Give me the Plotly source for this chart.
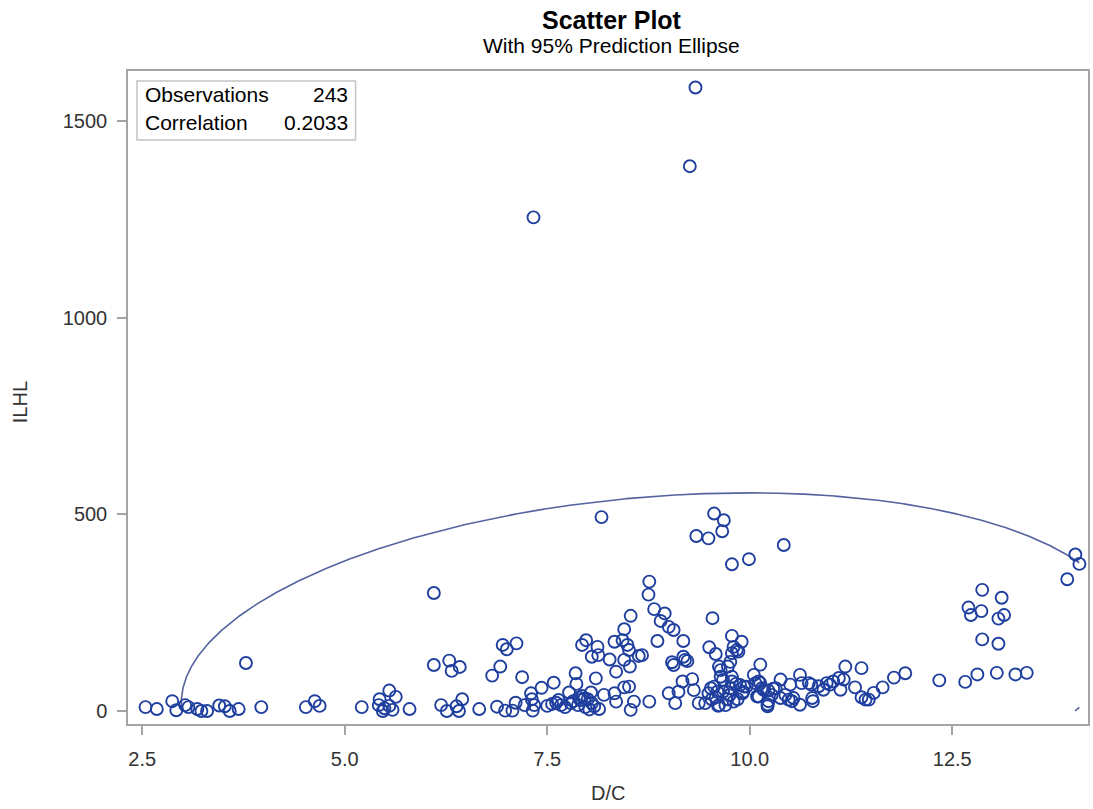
import numpy as np
import plotly.graph_objects as go

# D/C ratio (x) and ILHL (y) for the 243 observations
dc = [
    2.54, 2.68, 2.87, 2.92, 3.03, 3.07, 3.18, 3.23, 3.30, 3.45, 3.52, 3.58, 3.69, 3.78, 3.97,
    4.52, 4.63, 4.69, 5.21, 5.43, 5.55, 5.63, 5.42, 5.49, 5.47, 5.55, 5.59, 5.80,
    6.10, 6.10, 6.29, 6.32, 6.42, 6.19, 6.26, 6.38, 6.41, 6.45,
    6.66, 6.82, 6.92, 6.88, 6.95, 7.00, 7.12, 6.98, 7.07, 7.11, 7.19, 7.22, 7.30, 7.31, 7.32,
    7.34, 7.33, 7.43,
    7.50, 7.56, 7.58, 7.61, 7.67, 7.77, 7.79, 7.85, 7.86, 7.89, 7.93, 7.96, 7.98, 7.93, 8.04,
    8.05, 8.02, 8.10, 8.12, 8.05, 8.13, 8.14, 8.20, 8.27, 8.17, 8.33, 8.35, 8.35, 8.33,
    7.82, 7.88, 7.91, 8.00, 8.08, 7.72, 7.64, 7.97,
    8.43, 8.45, 8.49, 8.51, 8.53, 8.45, 8.52, 8.51, 8.53, 8.57, 8.63, 8.67, 8.75, 8.76, 8.82,
    8.86, 8.90, 8.95, 9.00, 9.06, 8.76, 9.00, 9.04, 9.06, 9.08, 9.12, 9.17, 9.18, 9.18, 9.20,
    9.23, 9.26, 9.29, 9.31, 9.33, 9.34, 9.37, 8.45,
    9.45, 9.49, 9.49, 9.50, 9.52, 9.54, 9.56, 9.56, 9.58, 9.60, 9.61, 9.62, 9.62, 9.64, 9.64,
    9.66, 9.67, 9.67, 9.68, 9.70, 9.73, 9.76, 9.76, 9.78, 9.78, 9.78, 9.78, 9.78, 9.80, 9.80,
    9.83, 9.84, 9.86, 9.88, 9.90, 9.91, 9.92, 9.93, 9.96, 9.99, 9.53, 9.58, 9.72, 9.75, 9.85,
    10.05, 10.07, 10.09, 10.11, 10.11, 10.13, 10.13, 10.15, 10.17, 10.22, 10.23, 10.23, 10.27,
    10.29, 10.32, 10.38, 10.38, 10.42, 10.44, 10.48, 10.50, 10.52, 10.54, 10.62, 10.62, 10.64,
    10.73, 10.77, 10.78, 10.76, 10.85, 10.91, 10.95, 10.99, 10.22,
    11.03, 11.10, 11.12, 11.16, 11.18, 11.30, 11.38, 11.38, 11.43, 11.47, 11.53, 11.64, 11.78,
    11.92,
    12.34, 12.66, 12.81, 12.87, 13.11, 12.70, 12.73, 12.86, 13.07, 13.14, 12.87, 13.07, 13.05,
    13.28, 13.42, 13.92, 14.02, 14.07,
]
ilhl = [
    10, 5, 25, 2, 15, 10, 5, 0, 0, 14, 12, 0, 5, 122, 10,
    10, 25, 13, 10, 30, 52, 36, 15, 7, 0, 13, 3, 5,
    300, 117, 128, 102, 112, 15, 0, 12, 0, 30,
    5, 90, 113, 11, 168, 157, 172, 1, 1, 21, 86, 15, 45, 30, 1,
    15, 1255, 59,
    13, 18, 72, 21, 15, 47, 20, 96, 69, 34, 38, 32, 180, 168, 47,
    20, 4, 83, 163, 138, 142, 5, 41, 131, 493, 176, 100, 24, 45,
    25, 15, 28, 30, 12, 10, 28, 10,
    180, 208, 168, 155, 242, 130, 113, 62, 3, 24, 140, 142, 296, 329, 259,
    178, 229, 248, 214, 206, 24, 45, 124, 117, 20, 49, 75, 178, 138, 130,
    127, 1385, 81, 53, 1585, 445, 20, 60,
    20, 45, 439, 162, 58, 236, 502, 62, 145, 49, 13, 15, 113, 104, 87,
    457, 49, 79, 485, 15, 113, 125, 58, 373, 191, 147, 75, 87, 24, 163,
    69, 155, 151, 66, 176, 45, 49, 62, 62, 386, 30, 35, 30, 40, 30,
    92, 71, 37, 75, 37, 118, 71, 58, 54, 12, 25, 52, 41,
    57, 58, 80, 33, 422, 41, 29, 67, 25, 33, 92, 16, 71,
    71, 33, 25, 67, 63, 54, 71, 67, 17,
    75, 84, 54, 80, 113, 60, 109, 35, 29, 29, 46, 60, 85,
    96,
    78, 74, 93, 308, 288, 263, 244, 254, 235, 244, 182, 171, 97,
    93, 97, 335, 398, 374,
]

stat_labels = ["Observations", "Correlation"]
stat_values = ["243", "0.2033"]

x_ticks = [2.5, 5.0, 7.5, 10.0, 12.5]
y_ticks = [0, 500, 1000, 1500]

# 95% prediction ellipse from the sample mean and covariance
xy = np.column_stack([dc, ilhl]).astype(float)
n = len(xy)
mean = xy.mean(axis=0)
cov = np.cov(xy, rowvar=False)
alpha = 0.05
f_crit = (n - 2) / 2.0 * (alpha ** (-2.0 / (n - 2)) - 1.0)  # F(0.95; 2, n-2)
c2 = 2.0 * (n + 1) * (n - 1) / (n * (n - 2)) * f_crit
chol = np.linalg.cholesky(cov)
t = np.linspace(0, 2 * np.pi, 6001)
ell = mean[:, None] + np.sqrt(c2) * (chol @ np.vstack([np.cos(t), np.sin(t)]))

# the curve is only drawn inside the range spanned by the data
ex, ey = ell[0].copy(), ell[1].copy()
outside = (ex < min(dc)) | (ex > max(dc)) | (ey < min(ilhl)) | (ey > max(ilhl))
ex[outside] = np.nan
ey[outside] = np.nan

BLUE = "#1f3f9f"
ELL = "#55639f"
FRAME = "#a4a4a4"
TXT = "#333333"
FONT = "Arial, Liberation Sans, sans-serif"

fig = go.Figure()
fig.add_trace(go.Scatter(
    x=ex, y=ey, mode="lines", connectgaps=False,
    line=dict(color=ELL, width=1.6), hoverinfo="skip", showlegend=False,
))
fig.add_trace(go.Scatter(
    x=dc, y=ilhl, mode="markers",
    marker=dict(symbol="circle-open", size=12, color=BLUE, line=dict(width=1.9, color=BLUE)),
    showlegend=False,
))

W, H = 1093, 809
L_PX, R_PX, T_PX, B_PX = 128, 1090, 71, 724


def px(xp):
    return (xp - L_PX) / (R_PX - L_PX)


def py(yp):
    return (B_PX - yp) / (B_PX - T_PX)


fig.update_layout(
    width=W, height=H,
    margin=dict(l=L_PX, r=W - R_PX, t=T_PX, b=H - B_PX),
    paper_bgcolor="white", plot_bgcolor="white",
    font=dict(family=FONT, color=TXT, size=20),
    xaxis=dict(
        range=[2.324, 14.176], tickvals=x_ticks, tickformat=".1f",
        showgrid=False, zeroline=False, showline=True, mirror=True,
        linecolor=FRAME, linewidth=1.5, ticks="outside", ticklen=9, tickcolor=FRAME,
        tickwidth=1.5, tickfont=dict(size=20, color=TXT), ticklabelstandoff=7,
    ),
    yaxis=dict(
        range=[-33, 1627], tickvals=y_ticks,
        showgrid=False, zeroline=False, showline=True, mirror=True,
        linecolor=FRAME, linewidth=1.5, ticks="outside", ticklen=9, tickcolor=FRAME,
        tickwidth=1.5, tickfont=dict(size=20, color=TXT), ticklabelstandoff=6,
    ),
)

ann = [
    dict(text="<b>Scatter Plot</b>", x=px(613), y=py(20), font=dict(size=25, color="black")),
    dict(text="With 95% Prediction Ellipse", x=px(613), y=py(46), font=dict(size=21, color="black")),
    dict(text="D/C", x=px(609), y=py(793), font=dict(size=20, color=TXT)),
    dict(text="ILHL", x=px(20), y=py(402), textangle=-90, font=dict(size=20, color=TXT)),
]
for a in ann:
    fig.add_annotation(xref="paper", yref="paper", showarrow=False, xanchor="center",
                       yanchor="middle", **a)

# statistics inset
fig.add_shape(type="rect", xref="paper", yref="paper",
              x0=px(137), x1=px(356), y0=py(140), y1=py(81),
              line=dict(color="#c4c4c4", width=1.5), fillcolor="white")
for i, (lab, val) in enumerate(zip(stat_labels, stat_values)):
    yc = py(95 + 28 * i)
    fig.add_annotation(xref="paper", yref="paper", x=px(143), y=yc, text=lab,
                       showarrow=False, xanchor="left", yanchor="middle",
                       font=dict(size=21, color="black"))
    fig.add_annotation(xref="paper", yref="paper", x=px(350), y=yc, text=val,
                       showarrow=False, xanchor="right", yanchor="middle",
                       font=dict(size=21, color="black"))

fig.write_html("out.html")
